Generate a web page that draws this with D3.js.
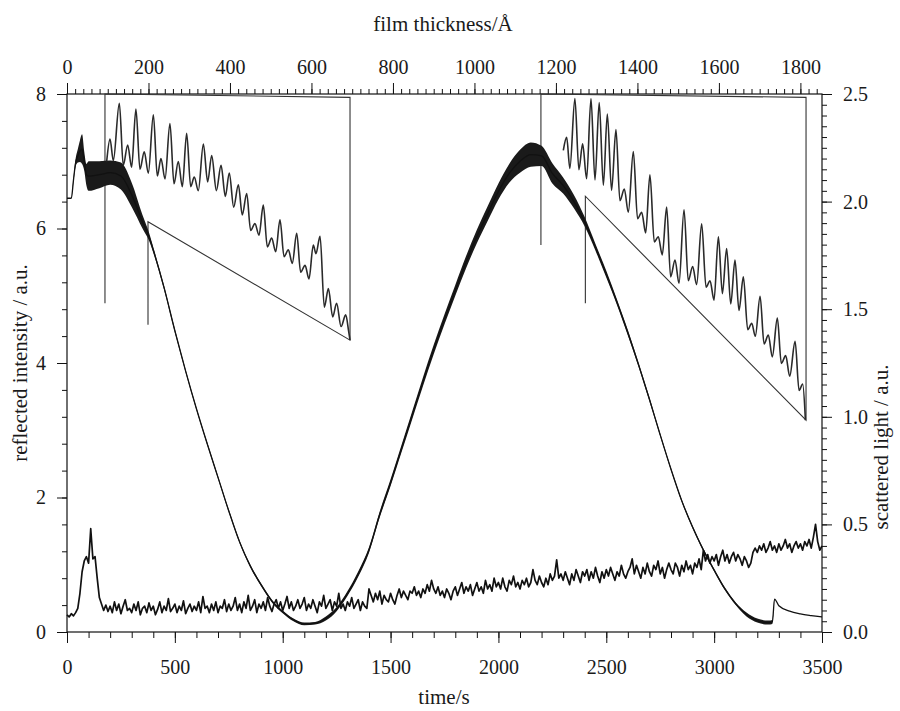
<!DOCTYPE html>
<html>
<head>
<meta charset="utf-8">
<script src="https://cdn.jsdelivr.net/npm/d3@7"></script>
<style>
body { margin: 0; background: #fff; }
svg text { font-family: "Liberation Serif", "Times New Roman", serif; fill: #1a1a1a; }
</style>
</head>
<body>
<svg id="chart" width="900" height="711"></svg>
<script>
// reflected intensity (left axis)
var reflTime = [0, 20, 30, 40, 50, 60, 70, 80, 90, 100,
    150, 200, 250, 300, 350, 380, 400, 450, 500, 550,
    600, 650, 700, 750, 800, 850, 900, 950, 1000, 1050,
    1100, 1150, 1200, 1250, 1300, 1350, 1400, 1450, 1500, 1550,
    1600, 1650, 1700, 1750, 1800, 1850, 1900, 1950, 2000, 2050,
    2100, 2150, 2200, 2250, 2300, 2350, 2400, 2450, 2500, 2550,
    2600, 2650, 2700, 2750, 2800, 2850, 2900, 2950, 3000, 3050,
    3100, 3150, 3200, 3250, 3270, 3280, 3300, 3350, 3400, 3450,
    3500];
var reflValue = [6.45, 6.45, 6.72, 6.98, 7.08, 7.15, 7.18, 7.0, 6.8, 6.78,
    6.8, 6.83, 6.78, 6.5, 6.1, 5.88, 5.68, 5.12, 4.48, 3.88,
    3.32, 2.8, 2.3, 1.8, 1.34, 0.98, 0.7, 0.46, 0.3, 0.18,
    0.12, 0.13, 0.2, 0.34, 0.57, 0.86, 1.22, 1.75, 2.22, 2.72,
    3.22, 3.72, 4.2, 4.65, 5.08, 5.5, 5.88, 6.22, 6.55, 6.82,
    7.0, 7.1, 7.08, 6.82, 6.64, 6.4, 6.1, 5.72, 5.32, 4.9,
    4.45, 3.97, 3.46, 2.93, 2.42, 1.95, 1.56, 1.22, 0.92, 0.64,
    0.42, 0.26, 0.17, 0.14, 0.15, 0.49, 0.39, 0.31, 0.27, 0.245,
    0.225];
// half height of the band of fast interference fringes
var reflSpread = [0, 0, 0.03, 0.06, 0.1, 0.16, 0.22, 0.14, 0.16, 0.22,
    0.2, 0.18, 0.2, 0.18, 0.1, 0.06, 0.04, 0.03, 0.025, 0.02,
    0.02, 0.02, 0.02, 0.02, 0.02, 0.02, 0.02, 0.02, 0.02, 0.02,
    0.02, 0.02, 0.03, 0.03, 0.035, 0.04, 0.04, 0.045, 0.05, 0.055,
    0.06, 0.065, 0.07, 0.075, 0.08, 0.09, 0.1, 0.11, 0.12, 0.14,
    0.17, 0.18, 0.15, 0.15, 0.12, 0.1, 0.07, 0.05, 0.05, 0.04,
    0.04, 0.03, 0.03, 0.02, 0.02, 0.02, 0.02, 0.02, 0.02, 0.02,
    0.02, 0.03, 0.03, 0.03, 0.03, 0, 0, 0, 0, 0,
    0];

// scattered light (right axis), one reading every 10 s from t = 0
var scatterStep = 10;
var scatterValue = [0.08, 0.07, 0.085, 0.075, 0.09, 0.11, 0.18, 0.28, 0.33, 0.35,
    0.32, 0.48, 0.34, 0.35, 0.25, 0.16, 0.13, 0.10, 0.125, 0.095,
    0.12, 0.09, 0.14, 0.10, 0.13, 0.085, 0.12, 0.15, 0.10, 0.11,
    0.09, 0.13, 0.10, 0.14, 0.08, 0.11, 0.12, 0.09, 0.135, 0.10,
    0.12, 0.08, 0.105, 0.14, 0.09, 0.12, 0.10, 0.155, 0.095, 0.11,
    0.13, 0.09, 0.12, 0.10, 0.145, 0.085, 0.11, 0.13, 0.095, 0.12,
    0.10, 0.14, 0.09, 0.165, 0.11, 0.12, 0.09, 0.13, 0.10, 0.14,
    0.09, 0.12, 0.11, 0.15, 0.095, 0.13, 0.10, 0.12, 0.16, 0.10,
    0.13, 0.09, 0.14, 0.11, 0.17, 0.10, 0.12, 0.15, 0.09, 0.13,
    0.11, 0.14, 0.10, 0.16, 0.12, 0.095, 0.13, 0.15, 0.11, 0.14,
    0.10, 0.13, 0.165, 0.11, 0.14, 0.10, 0.12, 0.15, 0.11, 0.13,
    0.16, 0.10, 0.13, 0.11, 0.15, 0.12, 0.09, 0.14, 0.12, 0.17,
    0.11, 0.13, 0.15, 0.10, 0.14, 0.12, 0.18, 0.11, 0.13, 0.10,
    0.14, 0.12, 0.16, 0.11, 0.13, 0.15, 0.10, 0.14, 0.12, 0.11,
    0.20, 0.17, 0.14, 0.18, 0.15, 0.19, 0.13, 0.17, 0.15, 0.14,
    0.18, 0.15, 0.13, 0.17, 0.20, 0.16, 0.19, 0.17, 0.15, 0.19,
    0.18, 0.21, 0.17, 0.19, 0.16, 0.20, 0.18, 0.22, 0.19, 0.24,
    0.20, 0.18, 0.21, 0.17, 0.19, 0.16, 0.20, 0.18, 0.15, 0.19,
    0.21, 0.17, 0.20, 0.23, 0.18, 0.21, 0.19, 0.22, 0.17, 0.20,
    0.23, 0.19, 0.21, 0.18, 0.24, 0.20, 0.22, 0.19, 0.25, 0.21,
    0.23, 0.20, 0.25, 0.21, 0.19, 0.24, 0.22, 0.26, 0.21, 0.23,
    0.20, 0.24, 0.22, 0.25, 0.21, 0.23, 0.29, 0.24, 0.22, 0.26,
    0.23, 0.21, 0.25, 0.22, 0.27, 0.24, 0.26, 0.335, 0.25, 0.27,
    0.24, 0.28, 0.25, 0.22, 0.27, 0.24, 0.29, 0.26, 0.23, 0.28,
    0.26, 0.29, 0.24, 0.28, 0.25, 0.30, 0.26, 0.23, 0.28, 0.25,
    0.29, 0.26, 0.30, 0.27, 0.24, 0.28, 0.26, 0.31, 0.27, 0.25,
    0.28, 0.30, 0.34, 0.27, 0.31, 0.28, 0.25, 0.30, 0.27, 0.32,
    0.28, 0.26, 0.31, 0.29, 0.33, 0.27, 0.30, 0.25, 0.29, 0.32,
    0.29, 0.27, 0.32, 0.30, 0.26, 0.31, 0.28, 0.33, 0.29, 0.31,
    0.27, 0.32, 0.30, 0.34, 0.29, 0.38, 0.33, 0.36, 0.32, 0.35,
    0.33, 0.36, 0.31, 0.35, 0.38, 0.33, 0.36, 0.32, 0.35, 0.37,
    0.33, 0.36, 0.34, 0.31, 0.35, 0.33, 0.30, 0.32, 0.37, 0.39,
    0.37, 0.40, 0.38, 0.41, 0.37, 0.39, 0.42, 0.38, 0.40, 0.37,
    0.41, 0.38, 0.40, 0.43, 0.39, 0.41, 0.37, 0.40, 0.42, 0.39,
    0.41, 0.38, 0.42, 0.40, 0.43, 0.39, 0.44, 0.50, 0.42, 0.38,
    0.40];

// magnified fringes, left inset (time window 176-375 s)
var leftInsetTime = [177.4, 180.1, 182.8, 187.7, 190.9, 194.5, 197.7, 201.2, 204.5, 208.0,
    211.3, 215.4, 218.6, 221.6, 224.9, 228.9, 232.2, 235.7, 239.0, 242.5,
    245.8, 248.7, 252.0, 256.1, 259.6, 262.9, 266.7, 270.5, 274.0, 277.2,
    280.8, 284.6, 287.8, 291.4, 294.6, 298.1, 301.4, 304.9, 308.2, 311.7,
    315.0, 318.5, 321.8, 325.3, 328.5, 332.1, 335.3, 338.9, 342.1, 345.6,
    347.8, 351.1, 354.6, 357.9, 361.4, 364.6, 368.2, 372.0, 374.4, 375.5];
var leftInsetValue = [6.84, 7.07, 6.85, 7.44, 6.80, 7.01, 6.78, 7.38, 6.76, 6.94,
    6.72, 7.32, 6.69, 6.87, 6.66, 7.23, 6.61, 6.84, 6.58, 7.13,
    6.58, 6.68, 6.54, 7.02, 6.63, 6.90, 6.54, 6.80, 6.48, 6.72,
    6.37, 6.60, 6.29, 6.51, 6.13, 6.20, 6.08, 6.39, 5.96, 6.05,
    5.91, 6.24, 5.86, 5.93, 5.79, 6.10, 5.70, 5.77, 5.63, 5.98,
    5.89, 6.07, 5.34, 5.53, 5.24, 5.38, 5.14, 5.26, 5.09, 5.00];

// magnified fringes, right inset (time window 2197-2403 s)
var rightInsetTime = [2214.4, 2217.0, 2219.5, 2223.4, 2226.5, 2229.4, 2232.5, 2235.9, 2239.0, 2242.3,
    2245.5, 2248.6, 2251.9, 2255.3, 2258.4, 2261.8, 2264.9, 2268.8, 2272.1, 2275.3,
    2278.4, 2281.7, 2285.1, 2288.2, 2291.3, 2294.7, 2297.8, 2301.2, 2304.3, 2308.2,
    2311.5, 2314.9, 2318.0, 2321.9, 2325.3, 2328.4, 2331.5, 2334.9, 2338.0, 2341.3,
    2344.5, 2347.8, 2350.9, 2354.3, 2357.7, 2360.8, 2363.6, 2367.3, 2370.4, 2373.7,
    2376.8, 2380.7, 2383.8, 2387.2, 2390.3, 2394.5, 2397.6, 2400.4, 2402.5];
var rightInsetValue = [7.09, 7.19, 6.95, 7.49, 6.94, 7.14, 6.87, 7.49, 6.86, 7.46,
    6.82, 7.37, 6.78, 7.25, 6.70, 6.79, 6.61, 7.08, 6.56, 6.61,
    6.45, 6.90, 6.38, 6.42, 6.28, 6.65, 6.11, 6.24, 6.06, 6.63,
    6.08, 6.19, 6.05, 6.52, 6.03, 6.08, 5.93, 6.42, 5.98, 6.33,
    5.90, 6.24, 5.85, 6.11, 5.70, 5.75, 5.65, 5.96, 5.59, 5.66,
    5.49, 5.79, 5.44, 5.50, 5.34, 5.61, 5.23, 5.28, 5.00];

// outline of each inset, in (time, reflected intensity)
var leftFrameTime = [176, 176, 1312, 1312, 375.5, 375.5];
var leftFrameValue = [4.89, 8, 7.95, 4.34, 6.1, 4.57];
var rightFrameTime = [2197, 2197, 3426, 3426, 2403, 2403];
var rightFrameValue = [5.755, 8, 7.95, 3.15, 6.48, 4.89];

var svg = d3.select("#chart");
var plotL = 67, plotR = 822, plotT = 94, plotB = 632;

var x = d3.scaleLinear().domain([0, 3500]).range([plotL, plotR]);
var xTop = d3.scaleLinear().domain([0, 1853]).range([plotL, plotR]);
var yL = d3.scaleLinear().domain([0, 8]).range([plotB, plotT]);
var yR = d3.scaleLinear().domain([0, 2.5]).range([plotB, plotT]);

function steps(n, step) {
    return d3.range(0, n + 1).map(i => +(i * step).toFixed(2));
}

function clean(g) {
    g.select(".domain").remove();
    g.selectAll(".tick line").attr("stroke", "#111");
    g.selectAll(".tick text").attr("font-size", 20).attr("fill", "#1a1a1a")
        .attr("font-family", "Liberation Serif, serif");
}

// minor ticks first, then major with labels
svg.append("g").attr("transform", `translate(0,${plotB})`)
    .call(d3.axisBottom(x).tickValues(d3.range(0, 3501, 100)).tickSize(6).tickFormat("")).call(clean);
svg.append("g").attr("transform", `translate(0,${plotB})`)
    .call(d3.axisBottom(x).tickValues(d3.range(0, 3501, 500)).tickSize(11).tickPadding(17)
        .tickFormat(d3.format("d"))).call(clean);

svg.append("g").attr("transform", `translate(0,${plotT})`)
    .call(d3.axisTop(xTop).tickValues(d3.range(0, 1853, 20)).tickSize(5).tickFormat("")).call(clean);
svg.append("g").attr("transform", `translate(0,${plotT})`)
    .call(d3.axisTop(xTop).tickValues(d3.range(0, 1801, 200)).tickSize(11).tickPadding(9)
        .tickFormat(d3.format("d"))).call(clean);

svg.append("g").attr("transform", `translate(${plotL},0)`)
    .call(d3.axisLeft(yL).tickValues(steps(20, 0.4)).tickSize(5).tickFormat("")).call(clean);
svg.append("g").attr("transform", `translate(${plotL},0)`)
    .call(d3.axisLeft(yL).tickValues([0, 2, 4, 6, 8]).tickSize(10).tickPadding(11)
        .tickFormat(d3.format("d"))).call(clean);

svg.append("g").attr("transform", `translate(${plotR},0)`)
    .call(d3.axisRight(yR).tickValues(steps(50, 0.05)).tickSize(5).tickFormat("")).call(clean);
svg.append("g").attr("transform", `translate(${plotR},0)`)
    .call(d3.axisRight(yR).tickValues(steps(5, 0.5)).tickSize(10).tickPadding(11)
        .tickFormat(d3.format(".1f"))).call(clean);

// plot frame
svg.append("rect")
    .attr("x", plotL).attr("y", plotT)
    .attr("width", plotR - plotL).attr("height", plotB - plotT)
    .attr("fill", "none").attr("stroke", "#111").attr("stroke-width", 1.2);

// axis titles
svg.append("text").attr("x", 443).attr("y", 31).attr("text-anchor", "middle")
    .attr("font-size", 21).text("film thickness/Å");
svg.append("text").attr("x", 444).attr("y", 704).attr("text-anchor", "middle")
    .attr("font-size", 21).text("time/s");
svg.append("text").attr("transform", "translate(27,363) rotate(-90)").attr("text-anchor", "middle")
    .attr("font-size", 21).text("reflected intensity / a.u.");
svg.append("text").attr("transform", "translate(888,447) rotate(-90)").attr("text-anchor", "middle")
    .attr("font-size", 21).text("scattered light / a.u.");

// inset outlines
var frameLine = d3.line().x(d => x(d[0])).y(d => yL(d[1]));
[[leftFrameTime, leftFrameValue], [rightFrameTime, rightFrameValue]].forEach(f => {
    svg.append("path")
        .attr("d", frameLine(d3.zip(f[0], f[1])))
        .attr("fill", "none").attr("stroke", "#333").attr("stroke-width", 1.1);
});

// scattered light trace
var scatter = scatterValue.map((v, i) => ({ t: i * scatterStep, v: v }));
svg.append("path")
    .attr("d", d3.line().x(d => x(d.t)).y(d => yR(d.v))(scatter))
    .attr("fill", "none").attr("stroke", "#111").attr("stroke-width", 1.7)
    .attr("stroke-linejoin", "round");

// reflected intensity: fringe band + centre line
var refl = reflTime.map((t, i) => ({ t: t, v: reflValue[i], s: reflSpread[i] }));
svg.append("path")
    .attr("d", d3.area().curve(d3.curveMonotoneX)
        .x(d => x(d.t)).y0(d => yL(d.v - d.s)).y1(d => yL(d.v + d.s))(refl))
    .attr("fill", "#1a1a1a");
svg.append("path")
    .attr("d", d3.line().curve(d3.curveMonotoneX).x(d => x(d.t)).y(d => yL(d.v))(refl))
    .attr("fill", "none").attr("stroke", "#111").attr("stroke-width", 1.3);

// insets: magnified time axis, own intensity scale
function drawInset(times, values, t0, t1, tEnd, vLow) {
    var ix = d3.scaleLinear().domain([t0, t1]).range([x(t0), x(tEnd)]);
    var iy = d3.scaleLinear().domain([5, 7.5]).range([yL(vLow), yL(7.95)]);
    svg.append("path")
        .attr("d", d3.line().curve(d3.curveMonotoneX)
            .x(d => ix(d[0])).y(d => iy(d[1]))(d3.zip(times, values)))
        .attr("fill", "none").attr("stroke", "#2a2a2a").attr("stroke-width", 1.6);
}
drawInset(leftInsetTime, leftInsetValue, 176, 375.5, 1312, 4.34);
drawInset(rightInsetTime, rightInsetValue, 2197, 2403, 3426, 3.15);
</script>
</body>
</html>
